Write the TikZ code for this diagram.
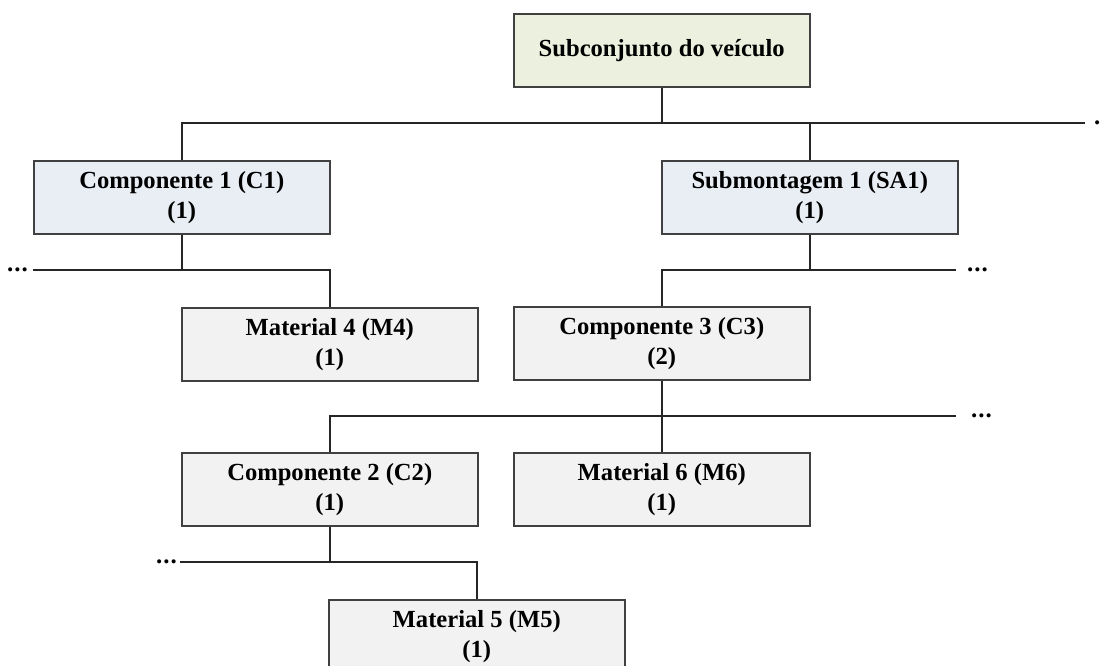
\documentclass[tikz,border=0pt]{standalone}
\usepackage{fontspec}
\setmainfont{Liberation Serif}
\begin{document}
\begin{tikzpicture}[x=1pt,y=-1pt,
  part/.style={draw=black!75, line width=1.5pt, minimum width=296pt, minimum height=73pt,
    anchor=north west, inner sep=0pt, align=center,
    font=\fontsize{24.6}{30}\selectfont\bfseries},
  vehicle/.style={part, fill={rgb,255:red,235;green,241;blue,222}},
  assembly/.style={part, fill={rgb,255:red,233;green,238;blue,245}},
  item/.style={part, fill={rgb,255:red,242;green,242;blue,242}},
  link/.style={draw=black!85, line width=1.5pt},
  more/.style={inner sep=0pt, font=\fontsize{25}{30}\selectfont\bfseries}]
\clip (0,0) rectangle (1100,665);

% boxes
\node[vehicle]  (top) at (513,13)  {Subconjunto do veículo};
\node[assembly] (c1)  at (33,160)  {Componente 1 (C1)\\(1)};
\node[assembly] (sa1) at (661,160) {Submontagem 1 (SA1)\\(1)};
\node[item]     (m4)  at (181,307) {Material 4 (M4)\\(1)};
\node[item]     (c3)  at (513,306) {Componente 3 (C3)\\(2)};
\node[item]     (c2)  at (181,452) {Componente 2 (C2)\\(1)};
\node[item]     (m6)  at (513,452) {Material 6 (M6)\\(1)};
\node[item]     (m5)  at (328,599) {Material 5 (M5)\\(1)};

% free ends of the bus lines
\coordinate (e0) at (1085,123);
\coordinate (l1) at (33,270);
\coordinate (r1) at (956,270);
\coordinate (r2) at (956,416);
\coordinate (l3) at (180,562);

% level 1
\draw[link] (top.south) -- (top.south |- e0);
\draw[link] (c1.north) |- (e0);
\draw[link] (sa1.north) -- (sa1.north |- e0);
\node[more, anchor=west] (d0) at ([xshift=9pt]e0) {.};

% below C1
\draw[link] (c1.south) -- (c1.south |- l1);
\draw[link] (l1) -| (m4.north);
\node[more, anchor=east] (d1) at ([xshift=-5pt]l1) {.\kern1pt.\kern1pt.};

% below SA1
\draw[link] (sa1.south) -- (sa1.south |- r1);
\draw[link] (c3.north) |- (r1);
\node[more, anchor=west] (d2) at ([xshift=11pt]r1) {.\kern1pt.\kern1pt.};

% below C3
\draw[link] (c3.south) -- (m6.north);
\draw[link] (c2.north) |- (r2);
\node[more, anchor=west] (d3) at ([xshift=15pt]r2) {.\kern1pt.\kern1pt.};

% below C2
\draw[link] (c2.south) -- (c2.south |- l3);
\draw[link] (l3) -| (m5.north);
\node[more, anchor=east] (d4) at ([xshift=-3pt]l3) {.\kern1pt.\kern1pt.};
\end{tikzpicture}
\end{document}
